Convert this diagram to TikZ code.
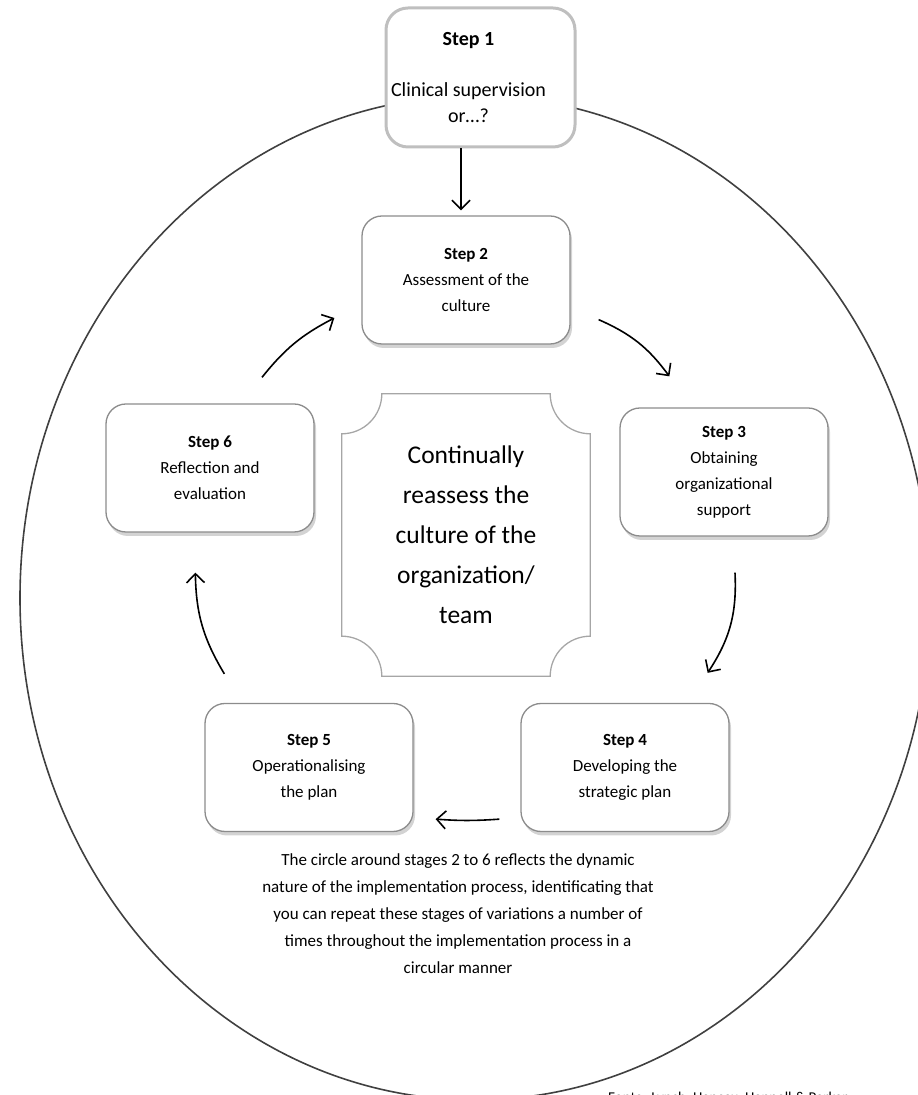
\documentclass[tikz,border=0pt]{standalone}
\usepackage{fontspec}
\setmainfont{Carlito}
\usetikzlibrary{arrows.meta,positioning,shadows}
\definecolor{boxline}{HTML}{8C8C8C}
\definecolor{topline}{HTML}{BFBFBF}
\definecolor{ring}{HTML}{404040}
\definecolor{plaque}{HTML}{A6A6A6}

\begin{document}
\begin{tikzpicture}[x=1pt,y=1pt,
  stepbox/.style={draw=boxline,line width=1.3pt,fill=white,rounded corners=20pt,
    minimum width=208pt,minimum height=128pt,align=center,
    font=\fontsize{17}{26}\selectfont,
    drop shadow={shadow xshift=2pt,shadow yshift=-4pt,opacity=0.35}},
  topbox/.style={draw=topline,line width=3pt,fill=white,rounded corners=22pt,
    minimum width=189pt,minimum height=139pt},
  flow/.style={line width=1.6pt,-{Straight Barb[length=9pt,width=18pt]}}]
  \useasboundingbox (0,0) rectangle (918,1095);

  % Outer circle
  \draw[ring,line width=1.6pt] (475,497) ellipse [x radius=455, y radius=502];

  % Step boxes
  \node[topbox] (s1) at (480.5,1017.5) {};
  \node[font=\fontsize{20}{25.5}\selectfont,align=center] (s1t) at ([xshift=-12pt]s1.center)
    {\textbf{Step 1}\\[25.5pt]Clinical supervision\\or…?};
  \node[stepbox] (s2) at (466,815) {\textbf{Step 2}\\Assessment of the\\culture};
  \node[stepbox] (s3) at (724,623) {\textbf{Step 3}\\Obtaining\\organizational\\support};
  \node[stepbox] (s4) at (625,327.5) {\textbf{Step 4}\\Developing the\\strategic plan};
  \node[stepbox] (s5) at (309,327.5) {\textbf{Step 5}\\Operationalising\\the plan};
  \node[stepbox] (s6) at (210,627) {\textbf{Step 6}\\Reflection and\\evaluation};

  % Centre plaque
  \node[minimum width=248pt,minimum height=282pt,align=center,
    font=\fontsize{25.5}{40}\selectfont] (mid) at (466,560)
    {Continually\\reassess the\\culture of the\\organization/\\team};
  \draw[plaque,line width=1.3pt] ([yshift=-40pt]mid.north west)
    arc[start angle=-90,end angle=0,radius=40] -- ([xshift=-40pt]mid.north east)
    arc[start angle=180,end angle=270,radius=40] -- ([yshift=40pt]mid.south east)
    arc[start angle=90,end angle=180,radius=40] -- ([xshift=40pt]mid.south west)
    arc[start angle=0,end angle=90,radius=40] -- cycle;

  % Flow arrows
  \draw[flow,shorten >=5pt] ([xshift=-19.5pt]s1.south) -- ([xshift=-5pt]s2.north);
  \draw[flow] ([xshift=28pt,yshift=25pt]s2.south east) to[bend left=15]
    ([xshift=50pt,yshift=31pt]s3.north west);
  \draw[flow] ([xshift=11pt,yshift=-36pt]s3.south) to[bend left=18]
    ([xshift=-22pt,yshift=30pt]s4.north east);
  \draw[flow] ([xshift=-21pt,yshift=13pt]s4.south west) to[bend left=4]
    ([xshift=22pt,yshift=13pt]s5.south east);
  \draw[flow] ([xshift=20pt,yshift=29pt]s5.north west) to[bend left=15]
    ([xshift=90pt,yshift=-40pt]s6.south west);
  \draw[flow] ([xshift=52pt,yshift=26pt]s6.north) to[bend left=12]
    ([xshift=-27pt,yshift=-38pt]s2.west);

  % Note and source
  \node[font=\fontsize{17}{27}\selectfont,align=center] (note) at (458,181)
    {The circle around stages 2 to 6 reflects the dynamic\\
     nature of the implementation process, identificating that\\
     you can repeat these stages of variations a number of\\
     times throughout the implementation process in a\\
     circular manner};
  \node[font=\fontsize{15}{18}\selectfont,anchor=north west,inner sep=0pt] (src) at (608,3)
    {Fonte: Lynch, Hancox, Happell \& Parker};
\end{tikzpicture}
\end{document}
